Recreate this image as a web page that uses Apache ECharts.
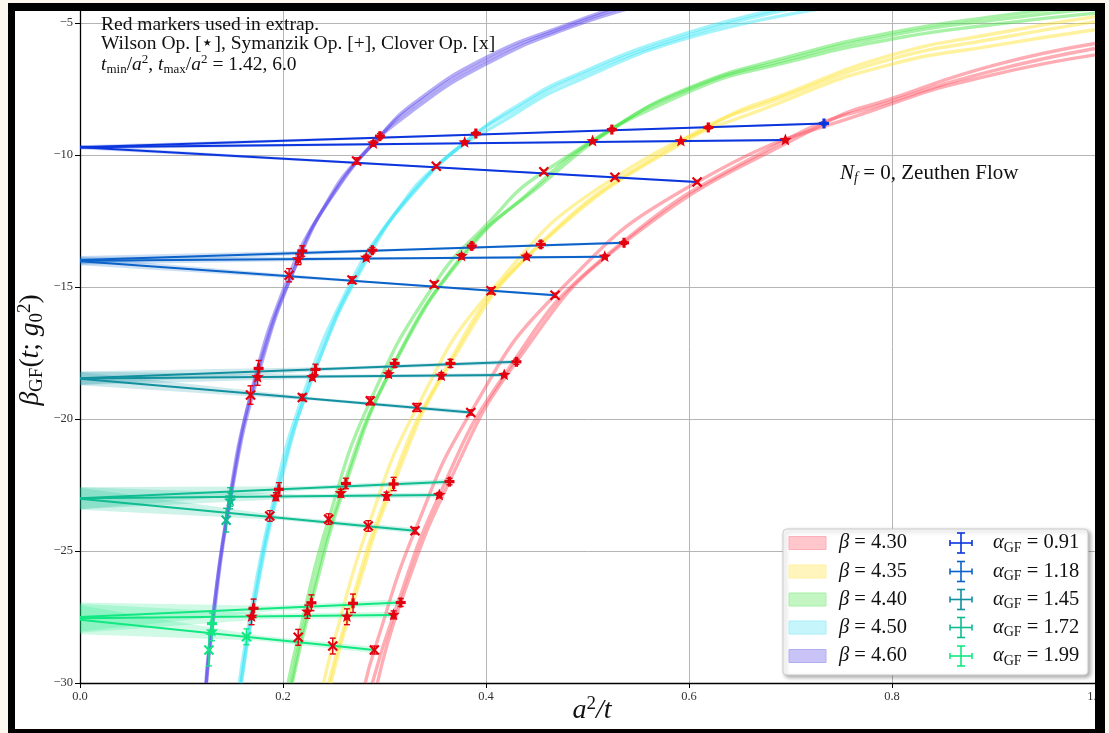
<!DOCTYPE html>
<html>
<head>
<meta charset="utf-8">
<script src="https://cdn.jsdelivr.net/npm/echarts@6/dist/echarts.min.js"></script>
<style>
html,body{margin:0;padding:0;background:#fcf8ef;width:1109px;height:733px;overflow:hidden;}
.bg{position:absolute;left:15px;top:11px;width:1080px;height:718px;background:#fff;}
.frame{position:absolute;left:8px;top:3px;width:1080px;height:718px;border-style:solid;border-color:#000;border-width:8px 10px 5px 7px;pointer-events:none;z-index:5;}
#c{position:absolute;left:0;top:0;width:1109px;height:733px;z-index:2;}
</style>
</head>
<body>
<div class="bg"></div>
<div id="c"></div>
<div class="frame"></div>
<script>
// ---------------- data ----------------
const xTickLabels = ['0.0','0.2','0.4','0.6','0.8','1.0'];
const yTickValues = [-30,-25,-20,-15,-10,-5];
const yTickLabels = ['\u221230','\u221225','\u221220','\u221215','\u221210','\u22125'];
const betaLabels = ['4.30','4.35','4.40','4.50','4.60'];
const alphaLabels = ['0.91','1.18','1.45','1.72','1.99'];

// beta curves: [Symanzik, Wilson, Clover], points [a^2/t, beta_GF]
const b430 = [
  [[0.293,-30],[0.316,-26.95],[0.364,-22.37],[0.43,-17.83],[0.536,-13.32],[0.733,-8.80],[0.80,-7.85],[0.90,-6.6],[1.0,-5.77]],
  [[0.288,-30],[0.309,-27.42],[0.354,-22.88],[0.418,-18.33],[0.517,-13.85],[0.695,-9.43],[0.80,-7.95],[0.90,-6.8],[1.0,-5.96]],
  [[0.281,-30],[0.29,-28.75],[0.33,-24.23],[0.385,-19.75],[0.468,-15.31],[0.608,-11.02],[0.80,-8.05],[0.90,-6.95],[1.0,-6.2]]
];
const b435 = [
  [[0.247,-30],[0.269,-26.98],[0.309,-22.46],[0.365,-17.89],[0.454,-13.38],[0.619,-8.95],[0.70,-7.6],[0.80,-6.2],[0.90,-5.4],[1.0,-4.75]],
  [[0.245,-30],[0.263,-27.49],[0.302,-22.92],[0.356,-18.36],[0.44,-13.85],[0.592,-9.47],[0.70,-7.7],[0.80,-6.35],[0.90,-5.6],[1.0,-4.94]],
  [[0.240,-30],[0.249,-28.6],[0.284,-24.05],[0.332,-19.56],[0.405,-15.14],[0.527,-10.84],[0.70,-7.85],[0.80,-6.55],[0.90,-5.85],[1.0,-5.25]]
];
const b440 = [
  [[0.209,-30],[0.228,-26.96],[0.262,-22.44],[0.31,-17.89],[0.386,-13.44],[0.455,-11.1],[0.524,-9.03],[0.60,-7.45],[0.70,-6.25],[0.80,-5.35],[0.90,-4.75],[1.0,-4.3]],
  [[0.208,-30],[0.224,-27.3],[0.257,-22.81],[0.304,-18.30],[0.376,-13.83],[0.44,-11.5],[0.505,-9.47],[0.60,-7.5],[0.70,-6.35],[0.80,-5.45],[0.90,-4.88],[1.0,-4.45]],
  [[0.205,-30],[0.215,-28.27],[0.245,-23.79],[0.286,-19.31],[0.349,-14.9],[0.40,-12.65],[0.457,-10.63],[0.60,-7.6],[0.70,-6.45],[0.80,-5.6],[0.90,-5.05],[1.0,-4.62]]
];
const b450 = [
  [[0.159,-30],[0.171,-27.17],[0.196,-22.66],[0.232,-18.12],[0.288,-13.6],[0.335,-11.1],[0.39,-9.18],[0.43,-8.15],[0.48,-7.1],[0.60,-5.35],[0.72,-4.2]],
  [[0.1585,-30],[0.169,-27.49],[0.193,-22.94],[0.229,-18.42],[0.282,-13.89],[0.328,-11.45],[0.379,-9.52],[0.43,-8.25],[0.48,-7.2],[0.60,-5.45],[0.72,-4.3]],
  [[0.157,-30],[0.164,-28.25],[0.187,-23.67],[0.219,-19.18],[0.268,-14.73],[0.306,-12.46],[0.351,-10.42],[0.43,-8.4],[0.48,-7.35],[0.60,-5.55],[0.74,-4.4]]
];
const b460 = [
  [[0.1245,-30],[0.13,-27.75],[0.148,-22.95],[0.176,-18.08],[0.219,-13.63],[0.253,-11.3],[0.2955,-9.28],[0.33,-8.0],[0.40,-6.3],[0.48,-5.05],[0.56,-4.0]],
  [[0.1245,-30],[0.13,-28.05],[0.148,-23.1],[0.175,-18.42],[0.215,-13.95],[0.247,-11.6],[0.289,-9.56],[0.33,-8.1],[0.40,-6.42],[0.48,-5.12],[0.56,-4.1]],
  [[0.124,-30],[0.127,-28.75],[0.144,-23.83],[0.168,-19.09],[0.206,-14.55],[0.240,-12.0],[0.2725,-10.22],[0.33,-8.25],[0.40,-6.55],[0.48,-5.2],[0.56,-4.25]]
];

// markers per alpha group: [x, y, yerr, usedInExtrap]
const a091Sym = [[0.2955,-9.28,0.1,1],[0.39,-9.18,0.06,1],[0.524,-9.03,0.06,1],[0.619,-8.95,0.06,1],[0.733,-8.80,0.05,0]];
const a091Wil = [[0.289,-9.56,0.1,1],[0.379,-9.52,0.06,1],[0.505,-9.47,0.05,1],[0.592,-9.47,0.05,1],[0.695,-9.43,0.05,1]];
const a091Clo = [[0.2725,-10.22,0.12,1],[0.351,-10.42,0.06,1],[0.457,-10.63,0.06,1],[0.527,-10.84,0.06,1],[0.608,-11.02,0.06,1]];
const a118Sym = [[0.219,-13.63,0.2,1],[0.288,-13.6,0.1,1],[0.386,-13.44,0.1,1],[0.454,-13.38,0.12,1],[0.536,-13.32,0.06,1]];
const a118Wil = [[0.215,-13.95,0.2,1],[0.282,-13.89,0.1,1],[0.376,-13.83,0.1,1],[0.44,-13.85,0.1,1],[0.517,-13.85,0.06,1]];
const a118Clo = [[0.206,-14.55,0.25,1],[0.268,-14.73,0.12,1],[0.349,-14.9,0.1,1],[0.405,-15.14,0.12,1],[0.468,-15.31,0.08,1]];
const a145Sym = [[0.176,-18.08,0.3,1],[0.232,-18.12,0.2,1],[0.31,-17.89,0.15,1],[0.365,-17.89,0.15,1],[0.43,-17.83,0.1,1]];
const a145Wil = [[0.175,-18.42,0.3,1],[0.229,-18.42,0.1,1],[0.304,-18.30,0.12,1],[0.356,-18.36,0.12,1],[0.418,-18.33,0.06,1]];
const a145Clo = [[0.168,-19.09,0.35,1],[0.219,-19.18,0.12,1],[0.286,-19.31,0.15,1],[0.332,-19.56,0.15,1],[0.385,-19.75,0.1,1]];
const a172Sym = [[0.148,-22.95,0.35,0],[0.196,-22.66,0.25,1],[0.262,-22.44,0.2,1],[0.309,-22.46,0.25,1],[0.364,-22.37,0.12,1]];
const a172Wil = [[0.148,-23.1,0.3,0],[0.193,-22.94,0.15,1],[0.257,-22.81,0.15,1],[0.302,-22.92,0.15,1],[0.354,-22.88,0.1,1]];
const a172Clo = [[0.144,-23.83,0.45,0],[0.187,-23.67,0.2,1],[0.245,-23.79,0.2,1],[0.284,-24.05,0.2,1],[0.33,-24.23,0.12,1]];
const a199Sym = [[0.13,-27.75,0.4,0],[0.171,-27.17,0.35,1],[0.228,-26.96,0.3,1],[0.269,-26.98,0.35,1],[0.316,-26.95,0.15,1]];
const a199Wil = [[0.13,-28.05,0.35,0],[0.169,-27.49,0.3,1],[0.224,-27.3,0.25,1],[0.263,-27.49,0.3,1],[0.309,-27.42,0.15,1]];
const a199Clo = [[0.127,-28.75,0.6,0],[0.164,-28.25,0.3,0],[0.215,-28.27,0.3,1],[0.249,-28.6,0.3,1],[0.29,-28.75,0.15,1]];

// continuum fits [Sym, Wil, Clo]: [value at 0, last x, value at last x]
const fit091 = [[-9.70,0.733,-8.80],[-9.70,0.695,-9.43],[-9.70,0.608,-11.02]];
const fit118 = [[-13.97,0.536,-13.32],[-14.0,0.517,-13.85],[-14.02,0.468,-15.31]];
const fit145 = [[-18.45,0.43,-17.83],[-18.46,0.418,-18.33],[-18.47,0.385,-19.75]];
const fit172 = [[-23.0,0.364,-22.37],[-23.0,0.354,-22.88],[-23.02,0.33,-24.23]];
const fit199 = [[-27.5,0.316,-26.95],[-27.55,0.309,-27.42],[-27.6,0.29,-28.75]];
// fit uncertainty half-widths [at 0, middle, end]
const err091 = [0.08,0.03,0.04];
const err118 = [0.15,0.04,0.05];
const err145 = [0.25,0.06,0.08];
const err172 = [0.42,0.08,0.1];
const err199 = [0.55,0.1,0.12];

// ---------------- styles ----------------
const serif = '"Liberation Serif","DejaVu Serif",serif';
const RED = '#e3000f';
const groupColors = ['#0b35dd','#0b62c9','#13909f','#10bc91','#12e882'];
const betaColors = ['#ff4a5c','#ffe22a','#3ce23c','#33e4f7','#5a46ea'];
const betaPatch = ['#ffc6cc','#fff5bd','#c3f6c3','#c6f5fb','#c9c4f6'];
const betaPatchEdge = ['#ffadb6','#fff0a0','#a8f0a8','#a8eef8','#b2abf2'];

const betaCurves = [b430,b435,b440,b450,b460];
const markerSets = [[a091Sym,a091Wil,a091Clo],[a118Sym,a118Wil,a118Clo],[a145Sym,a145Wil,a145Clo],[a172Sym,a172Wil,a172Clo],[a199Sym,a199Wil,a199Clo]];
const fits = [fit091,fit118,fit145,fit172,fit199];
const errs = [err091,err118,err145,err172,err199];

const series = [];
betaCurves.forEach((bc,i)=>{
  bc.forEach(curve=>{
    series.push({type:'line',data:curve,smooth:0.5,symbol:'none',silent:true,
      lineStyle:{color:betaColors[i],width:3.4,opacity:0.45},z:2,clip:true});
  });
});

const bandPolys = [];
fits.forEach((f,g)=>f.forEach(([y0,xe,ye])=>{
  const hw = errs[g];
  const xm = xe*0.6, ym = y0+(ye-y0)*0.6;
  bandPolys.push({g, xe, ye, pts:[[0,y0+hw[0]],[xm,ym+hw[1]],[xe,ye+hw[2]],[xe,ye-hw[2]],[xm,ym-hw[1]],[0,y0-hw[0]]]});
}));
series.push({type:'custom',silent:true,z:3,
  data:bandPolys.map((b,i)=>[b.xe,b.ye,i]),encode:{x:0,y:1},
  renderItem:(params,api)=>{
    const b = bandPolys[api.value(2)];
    return {type:'polygon',shape:{points:b.pts.map(p=>api.coord(p))},
      style:{fill:groupColors[b.g],opacity:0.2}};
  }});

fits.forEach((f,g)=>f.forEach(([y0,xe,ye])=>{
  series.push({type:'line',data:[[0,y0],[xe,ye]],symbol:'none',silent:true,
    lineStyle:{color:groupColors[g],width:2},z:4});
}));

const markerData = [];
markerSets.forEach((set,g)=>set.forEach((arr,op)=>arr.forEach(([x,y,e,u])=>markerData.push([x,y,e,u,op,g]))));
series.push({type:'custom',silent:true,z:6,data:markerData,encode:{x:0,y:1},
  renderItem:(params,api)=>{
    const x=api.value(0),y=api.value(1),e=api.value(2),u=api.value(3),op=api.value(4),g=api.value(5);
    const p=api.coord([x,y]), pt=api.coord([x,y+e]), pb=api.coord([x,y-e]);
    const col = u ? RED : groupColors[g];
    const st = {stroke:col,lineWidth:1.4};
    const ch = [
      {type:'line',shape:{x1:p[0],y1:pt[1],x2:p[0],y2:pb[1]},style:st},
      {type:'line',shape:{x1:p[0]-3,y1:pt[1],x2:p[0]+3,y2:pt[1]},style:st},
      {type:'line',shape:{x1:p[0]-3,y1:pb[1],x2:p[0]+3,y2:pb[1]},style:st}
    ];
    if(op===0){
      ch.push({type:'rect',shape:{x:p[0]-5,y:p[1]-1.6,width:10,height:3.2},style:{fill:col}});
      ch.push({type:'rect',shape:{x:p[0]-1.6,y:p[1]-5,width:3.2,height:10},style:{fill:col}});
    } else if(op===1){
      const pts=[];
      for(let k=0;k<10;k++){
        const a=-Math.PI/2+k*Math.PI/5, r=(k%2)?2.8:6.6;
        pts.push([p[0]+r*Math.cos(a),p[1]+r*Math.sin(a)]);
      }
      ch.push({type:'polygon',shape:{points:pts},style:{fill:col}});
    } else {
      ch.push({type:'line',shape:{x1:p[0]-4.5,y1:p[1]-4.5,x2:p[0]+4.5,y2:p[1]+4.5},style:{stroke:col,lineWidth:2.2}});
      ch.push({type:'line',shape:{x1:p[0]-4.5,y1:p[1]+4.5,x2:p[0]+4.5,y2:p[1]-4.5},style:{stroke:col,lineWidth:2.2}});
    }
    return {type:'group',children:ch};
  }});

// ---------------- text / legend ----------------
function rich(fs){
  return {
    n:{fontSize:fs,fontFamily:serif,fill:'#111',lineHeight:fs+4},
    i:{fontSize:fs,fontFamily:serif,fontStyle:'italic',fill:'#111',lineHeight:fs+4},
    sub:{fontSize:Math.round(fs*0.68),fontFamily:serif,fill:'#111',verticalAlign:'bottom',lineHeight:Math.round(fs*0.55)},
    isub:{fontSize:Math.round(fs*0.68),fontFamily:serif,fontStyle:'italic',fill:'#111',verticalAlign:'bottom',lineHeight:Math.round(fs*0.55)},
    sup:{fontSize:Math.round(fs*0.68),fontFamily:serif,fill:'#111',verticalAlign:'top',lineHeight:Math.round(fs*0.6)}
  };
}
function txt(x,y,text,fs,align,rot){
  return {type:'text',x:x,y:y,rotation:rot||0,z:100,silent:true,
    style:{text:text,rich:rich(fs),fontSize:fs,fontFamily:serif,fill:'#111',
      align:align||'left',textAlign:align||'left',verticalAlign:'middle',textVerticalAlign:'middle'}};
}
const graphics = [];
graphics.push(txt(101,24.5,'{n|Red markers used in extrap.}',19.5));
graphics.push(txt(101,44,'{n|Wilson Op. [\u22c6], Symanzik Op. [+], Clover Op. [x]}',19.5));
graphics.push(txt(101,64.5,'{i|t}{sub|min}{n|/}{i|a}{sup|2}{n|, }{i|t}{sub|max}{n|/}{i|a}{sup|2}{n| = 1.42, 6.0}',19.5));
graphics.push(txt(840,173,'{i|N}{isub|f}{n| = 0, Zeuthen Flow}',21));
graphics.push(txt(592,711,'{i|a}{sup|2}{i|/t}',28,'center'));
graphics.push(txt(31,350,'{i|\u03b2}{sub|GF}{n|(}{i|t}{n|; }{i|g}{sub|0}{sup|2}{n|)}',27.5,'center',Math.PI/2));

// legend box
graphics.push({type:'rect',z:99,silent:true,shape:{x:783,y:529,width:305,height:146,r:4},
  style:{fill:'#fff',stroke:'#cccccc',lineWidth:1,shadowBlur:4,shadowOffsetX:2,shadowOffsetY:2,shadowColor:'rgba(0,0,0,0.35)'}});
const rowY = [543,571.5,599.5,627.5,656];
betaLabels.forEach((b,i)=>{
  graphics.push({type:'rect',z:100,silent:true,shape:{x:789,y:rowY[i]-6.5,width:37,height:13},
    style:{fill:betaPatch[i],stroke:betaPatchEdge[i],lineWidth:1}});
  graphics.push(txt(839,rowY[i],'{i|\u03b2}{n| = '+b+'}',20.5));
});
alphaLabels.forEach((a,i)=>{
  const cx=961, cy=rowY[i], c=groupColors[i];
  const s={stroke:c,lineWidth:1.6};
  graphics.push({type:'line',z:100,silent:true,shape:{x1:cx,y1:cy-10,x2:cx,y2:cy+10},style:s});
  graphics.push({type:'line',z:100,silent:true,shape:{x1:cx-4,y1:cy-10,x2:cx+4,y2:cy-10},style:s});
  graphics.push({type:'line',z:100,silent:true,shape:{x1:cx-4,y1:cy+10,x2:cx+4,y2:cy+10},style:s});
  graphics.push({type:'line',z:100,silent:true,shape:{x1:cx-11,y1:cy,x2:cx+11,y2:cy},style:s});
  graphics.push({type:'line',z:100,silent:true,shape:{x1:cx-11,y1:cy-3,x2:cx-11,y2:cy+3},style:s});
  graphics.push({type:'line',z:100,silent:true,shape:{x1:cx+11,y1:cy-3,x2:cx+11,y2:cy+3},style:s});
  graphics.push(txt(993,cy,'{i|\u03b1}{sub|GF}{n| = '+a+'}',20.5));
});

const chart = echarts.init(document.getElementById('c'),null,{renderer:'canvas'});
chart.setOption({
  animation:false,
  backgroundColor:'transparent',
  grid:{left:80,right:14,top:10,bottom:50,containLabel:false},
  xAxis:{type:'value',min:0,max:1,interval:0.2,
    axisLine:{show:true,onZero:false,lineStyle:{color:'#000',width:1.3}},
    axisTick:{show:true,length:5,lineStyle:{color:'#000',width:1}},
    axisLabel:{fontFamily:serif,fontSize:12.5,color:'#333',margin:7,
      formatter:v=>{const k=Math.round(v/0.2); return Math.abs(v-k*0.2)<1e-6?xTickLabels[k]:'';}},
    splitLine:{show:true,lineStyle:{color:'#b5b5b5',width:1}}},
  yAxis:{type:'value',min:-30,max:-4.5,interval:5,
    axisLine:{show:true,onZero:false,lineStyle:{color:'#000',width:1.3}},
    axisTick:{show:true,length:5,lineStyle:{color:'#000',width:1}},
    axisLabel:{fontFamily:serif,fontSize:12.5,color:'#333',margin:7,showMaxLabel:false,
      formatter:v=>{const k=yTickValues.indexOf(Math.round(v)); return (k>=0&&Math.abs(v-Math.round(v))<1e-6)?yTickLabels[k]:'';}},
    splitLine:{show:true,lineStyle:{color:'#b5b5b5',width:1}}},
  series:series,
  graphic:{elements:graphics}
});
</script>
</body>
</html>
